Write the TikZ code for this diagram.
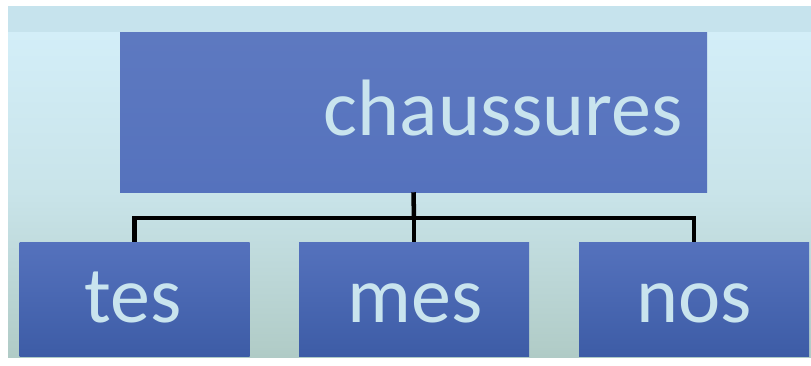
\documentclass[tikz,border=0pt]{standalone}
\usepackage{fontspec}
\setmainfont{Carlito}
\definecolor{bgtop}{HTML}{C6E3ED}
\definecolor{bglight}{HTML}{D3EEF8}
\definecolor{bgbottom}{HTML}{B0CBC6}
\definecolor{boxtop}{HTML}{5572BD}
\definecolor{boxbot}{HTML}{3D5CA6}
\definecolor{txt}{HTML}{C9E4EE}
\tikzset{
  mainbox/.style={rectangle, inner sep=0pt, minimum width=440.25pt, minimum height=120pt, top color=boxtop!95!white, bottom color=boxtop},
  childbox/.style={rectangle, inner sep=0pt, minimum width=172.5pt, minimum height=85.5pt, top color=boxtop, bottom color=boxbot},
  lbl/.style={inner sep=0pt, text=txt, font=\fontsize{60}{62}\selectfont},
  conn/.style={line width=3.4pt, black, line join=miter}
}
\begin{document}
\begin{tikzpicture}[x=0.75pt,y=-0.75pt]
\useasboundingbox (0,0) rectangle (811,365);
\fill[white] (0,0) rectangle (811,365);
\fill[bgtop] (8,6) rectangle (811,32);
\shade[top color=bglight, bottom color=bgbottom, middle color=bglight!70!bgbottom] (8,32) rectangle (811,357);
\node[mainbox] (main) at (413.5,112) {};
\node[childbox] (tes) at (134.5,299) {};
\node[childbox] (mes) at (414,299) {};
\node[childbox] (nos) at (694,299) {};
\node[lbl, anchor=base east] (tmain) at (683,135) {chaussures};
\node[lbl, anchor=base] (ttes) at (133,322) {tes};
\node[lbl, anchor=base] (tmes) at (415,322) {mes};
\node[lbl, anchor=base] (tnos) at (694,322) {nos};
\coordinate (bus) at (414,218);
\draw[conn] (main.south) -- (bus);
\draw[conn] (tes.north) |- (bus);
\draw[conn] (nos.north) |- (bus);
\draw[conn] (mes.north) -- (bus);
\end{tikzpicture}
\end{document}
